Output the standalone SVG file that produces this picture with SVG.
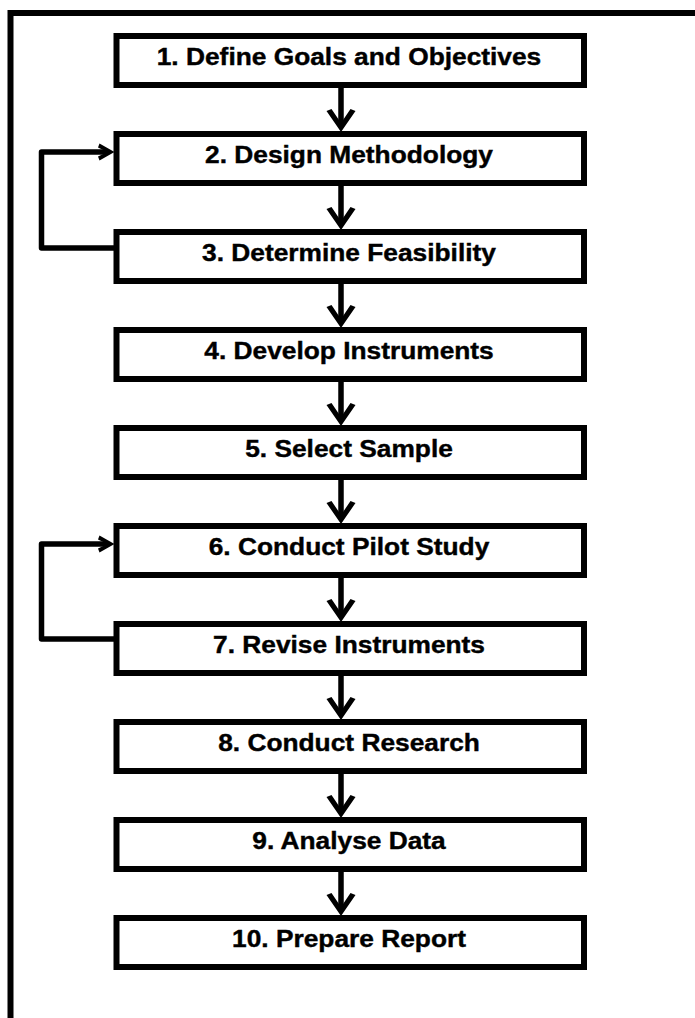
<svg xmlns="http://www.w3.org/2000/svg" width="695" height="1018" viewBox="0 0 695 1018">
  <style>
    .frame { fill: none; stroke: #000; stroke-width: 6; }
    .box rect { fill: #fff; stroke: #000; stroke-width: 6; }
    .box text { font-family: "Liberation Sans", Arial, sans-serif; font-weight: bold; font-size: 23.5px; fill: #000; stroke: #000; stroke-width: 0.4; text-anchor: middle; }
    .link { fill: none; stroke: #000; stroke-width: 5.5; stroke-linejoin: round; }
    .head { fill: #000; stroke: none; }
  </style>
  <defs>
    <!-- barbed arrowheads, tip at the origin, pointing down (+y) and right (+x) -->
    <path id="headDown" d="M0,1 L-14.5,-20 L-9.5,-22 L0,-8 L9.5,-22 L14.5,-20 Z"/>
    <path id="headRight" d="M1,0 L-14,-8.5 L-15.5,-4.5 L-6,0 L-15.5,4.5 L-14,8.5 Z"/>
  </defs>

  <!-- page frame: top and left rules -->
  <path class="frame" d="M10.5,1018 V13 H695"/>

  <!-- connectors -->
  <g id="connectors">
    <path class="link" d="M341,88 V124"/>
    <use class="head" href="#headDown" x="341" y="131"/>
    <path class="link" d="M341,186 V222"/>
    <use class="head" href="#headDown" x="341" y="229"/>
    <path class="link" d="M341,284 V320"/>
    <use class="head" href="#headDown" x="341" y="327"/>
    <path class="link" d="M341,382 V418"/>
    <use class="head" href="#headDown" x="341" y="425"/>
    <path class="link" d="M341,480 V516"/>
    <use class="head" href="#headDown" x="341" y="523"/>
    <path class="link" d="M341,578 V614"/>
    <use class="head" href="#headDown" x="341" y="621"/>
    <path class="link" d="M341,676 V712"/>
    <use class="head" href="#headDown" x="341" y="719"/>
    <path class="link" d="M341,774 V810"/>
    <use class="head" href="#headDown" x="341" y="817"/>
    <path class="link" d="M341,872 V908"/>
    <use class="head" href="#headDown" x="341" y="915"/>

    <!-- feedback loops: 3 back to 2, 7 back to 6 -->
    <path class="link" d="M116.5,248 H41.5 V152 H108"/>
    <use class="head" href="#headRight" x="113.5" y="152"/>
    <path class="link" d="M116.5,639 H41.5 V544 H108"/>
    <use class="head" href="#headRight" x="113.5" y="544"/>
  </g>

  <!-- process steps -->
  <g id="step1" class="box">
    <rect x="116.5" y="36" width="467.5" height="49"/>
    <text transform="translate(349,64.5) scale(1.12,1)">1. Define Goals and Objectives</text>
  </g>
  <g id="step2" class="box">
    <rect x="116.5" y="134" width="467.5" height="49"/>
    <text transform="translate(349,162.5) scale(1.12,1)">2. Design Methodology</text>
  </g>
  <g id="step3" class="box">
    <rect x="116.5" y="232" width="467.5" height="49"/>
    <text transform="translate(349,260.5) scale(1.12,1)">3. Determine Feasibility</text>
  </g>
  <g id="step4" class="box">
    <rect x="116.5" y="330" width="467.5" height="49"/>
    <text transform="translate(349,358.5) scale(1.12,1)">4. Develop Instruments</text>
  </g>
  <g id="step5" class="box">
    <rect x="116.5" y="428" width="467.5" height="49"/>
    <text transform="translate(349,456.5) scale(1.12,1)">5. Select Sample</text>
  </g>
  <g id="step6" class="box">
    <rect x="116.5" y="526" width="467.5" height="49"/>
    <text transform="translate(349,554.5) scale(1.12,1)">6. Conduct Pilot Study</text>
  </g>
  <g id="step7" class="box">
    <rect x="116.5" y="624" width="467.5" height="49"/>
    <text transform="translate(349,652.5) scale(1.12,1)">7. Revise Instruments</text>
  </g>
  <g id="step8" class="box">
    <rect x="116.5" y="722" width="467.5" height="49"/>
    <text transform="translate(349,750.5) scale(1.12,1)">8. Conduct Research</text>
  </g>
  <g id="step9" class="box">
    <rect x="116.5" y="820" width="467.5" height="49"/>
    <text transform="translate(349,848.5) scale(1.12,1)">9. Analyse Data</text>
  </g>
  <g id="step10" class="box">
    <rect x="116.5" y="918" width="467.5" height="49"/>
    <text transform="translate(349,946.5) scale(1.12,1)">10. Prepare Report</text>
  </g>
</svg>
